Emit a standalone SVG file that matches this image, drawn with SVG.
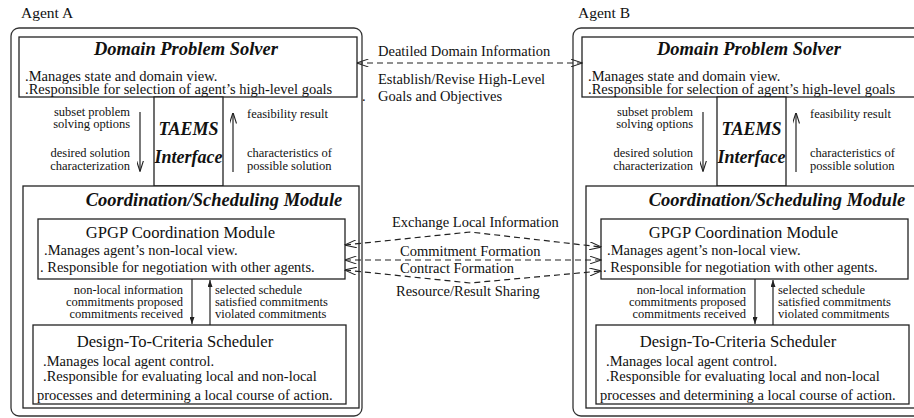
<svg xmlns="http://www.w3.org/2000/svg" width="914" height="418" viewBox="0 0 914 418">
<style>
  text { font-family: "Liberation Serif", "Times New Roman", serif; fill: #111; }
  .frame { fill: none; stroke: #333; stroke-width: 1.3; }
  .box { fill: #fff; stroke: #222; stroke-width: 1.3; }
  .ttl { font-weight: bold; font-style: italic; font-size: 18.5px; text-anchor: middle; }
  .ttl2 { font-weight: bold; font-style: italic; font-size: 18.5px; text-anchor: middle; }
  .tae { font-weight: bold; font-style: italic; font-size: 18px; text-anchor: middle; }
  .sub { font-size: 16.6px; text-anchor: middle; }
  .body { font-size: 14.5px; }
  .lab { font-size: 12.5px; }
  .lab13 { font-size: 12.5px; }
  .r { text-anchor: end; }
  .agent { font-size: 15.5px; }
  .conn { font-size: 14.5px; }
  .arr { fill: none; stroke: #222; stroke-width: 1.2; }
  .dash { fill: none; stroke: #222; stroke-width: 1.2; stroke-dasharray: 6 4; }
</style>
<defs>
  <marker id="vopen" viewBox="0 0 12 8" refX="11.5" refY="4" markerWidth="12" markerHeight="8" markerUnits="userSpaceOnUse" orient="auto-start-reverse">
    <path d="M0,0 L12,4 L0,8" fill="none" stroke="#222" stroke-width="1" stroke-dasharray="none"/>
  </marker>
  <marker id="vsmall" viewBox="0 0 11 7" refX="10.5" refY="3.5" markerWidth="11" markerHeight="7" markerUnits="userSpaceOnUse" orient="auto">
    <path d="M0,0 L11,3.5 L0,7" fill="none" stroke="#222" stroke-width="1.1"/>
  </marker>
  <marker id="tri" viewBox="0 0 7 5" refX="7" refY="2.5" markerWidth="7" markerHeight="5" markerUnits="userSpaceOnUse" orient="auto">
    <path d="M0,0 L7,2.5 L0,5 Z" fill="#222"/>
  </marker>
</defs>

<text class="agent" x="21" y="18">Agent A</text>
<text class="agent" x="578" y="18">Agent B</text>

<!-- Agent A -->
<g id="agentA">
  <rect class="frame" x="11" y="28" width="351" height="388" rx="8"/>
</g>
<g id="A-dps">
  <rect class="box" x="19" y="37" width="338" height="60"/>
  <text class="ttl" x="186" y="55">Domain Problem Solver</text>
  <text class="body" x="25" y="81">.Manages state and domain view.</text>
  <text class="body" x="25" y="94">.Responsible for selection of agent’s high-level goals</text>
</g>
<g id="A-taems">
  <rect class="box" x="154" y="97" width="69" height="89"/>
  <text class="tae" x="188.5" y="135">TAEMS</text>
  <text class="tae" x="188.5" y="163">Interface</text>
  <text class="lab r" x="130" y="116">subset problem</text>
  <text class="lab r" x="130" y="128">solving options</text>
  <text class="lab r" x="130" y="157">desired solution</text>
  <text class="lab r" x="130" y="170">characterization</text>
  <text class="lab" x="247" y="118">feasibility result</text>
  <text class="lab" x="247" y="157">characteristics of</text>
  <text class="lab" x="247" y="170">possible solution</text>
</g>
<g id="A-csm">
  <rect class="box" x="23" y="186" width="336" height="222"/>
  <text class="ttl2" x="214" y="206">Coordination/Scheduling Module</text>
</g>
<g id="A-gpgp">
  <rect class="box" x="38" y="219" width="307" height="60"/>
  <text class="sub" x="180.5" y="238">GPGP Coordination Module</text>
  <text class="body" x="44" y="255">.Manages agent’s non-local view.</text>
  <text class="body" x="40" y="272">. Responsible for negotiation with other agents.</text>
  <text class="lab13 r" x="183" y="294">non-local information</text>
  <text class="lab13 r" x="183" y="306">commitments proposed</text>
  <text class="lab13 r" x="183" y="318">commitments received</text>
  <text class="lab13" x="215" y="294">selected schedule</text>
  <text class="lab13" x="215" y="306">satisfied commitments</text>
  <text class="lab13" x="215" y="318">violated commitments</text>
</g>
<g id="A-dtc">
  <rect class="box" x="33" y="325" width="313" height="79"/>
  <text class="sub" x="175" y="347">Design-To-Criteria Scheduler</text>
  <text class="body" x="43" y="366">.Manages local agent control.</text>
  <text class="body" x="43" y="381">.Responsible for evaluating local and non-local</text>
  <text class="body" x="37" y="400">processes and determining a local course of action.</text>
</g>

<!-- Agent B -->
<g id="agentB" transform="translate(562,0)">
  <rect class="frame" x="11" y="28" width="351" height="388" rx="8"/>
</g>
<g id="B-dps" transform="translate(563,0)">
  <rect class="box" x="19" y="37" width="338" height="60"/>
  <text class="ttl" x="186" y="55">Domain Problem Solver</text>
  <text class="body" x="25" y="81">.Manages state and domain view.</text>
  <text class="body" x="25" y="94">.Responsible for selection of agent’s high-level goals</text>
</g>
<g id="B-taems" transform="translate(563,0)">
  <rect class="box" x="154" y="97" width="69" height="89"/>
  <text class="tae" x="188.5" y="135">TAEMS</text>
  <text class="tae" x="188.5" y="163">Interface</text>
  <text class="lab r" x="130" y="116">subset problem</text>
  <text class="lab r" x="130" y="128">solving options</text>
  <text class="lab r" x="130" y="157">desired solution</text>
  <text class="lab r" x="130" y="170">characterization</text>
  <text class="lab" x="247" y="118">feasibility result</text>
  <text class="lab" x="247" y="157">characteristics of</text>
  <text class="lab" x="247" y="170">possible solution</text>
</g>
<g id="B-csm" transform="translate(563,0)">
  <rect class="box" x="23" y="186" width="336" height="222"/>
  <text class="ttl2" x="214" y="206">Coordination/Scheduling Module</text>
</g>
<g id="B-gpgp" transform="translate(563,0)">
  <rect class="box" x="38" y="219" width="307" height="60"/>
  <text class="sub" x="180.5" y="238">GPGP Coordination Module</text>
  <text class="body" x="44" y="255">.Manages agent’s non-local view.</text>
  <text class="body" x="40" y="272">. Responsible for negotiation with other agents.</text>
  <text class="lab13 r" x="183" y="294">non-local information</text>
  <text class="lab13 r" x="183" y="306">commitments proposed</text>
  <text class="lab13 r" x="183" y="318">commitments received</text>
  <text class="lab13" x="215" y="294">selected schedule</text>
  <text class="lab13" x="215" y="306">satisfied commitments</text>
  <text class="lab13" x="215" y="318">violated commitments</text>
</g>
<g id="B-dtc" transform="translate(563,0)">
  <rect class="box" x="33" y="325" width="313" height="79"/>
  <text class="sub" x="175" y="347">Design-To-Criteria Scheduler</text>
  <text class="body" x="43" y="366">.Manages local agent control.</text>
  <text class="body" x="43" y="381">.Responsible for evaluating local and non-local</text>
  <text class="body" x="37" y="400">processes and determining a local course of action.</text>
</g>

<!-- Connectors -->
<g id="connectors">
  <line class="arr" x1="140" y1="112" x2="140" y2="171" marker-end="url(#vsmall)"/>
  <line class="arr" x1="233" y1="172" x2="233" y2="113" marker-end="url(#vsmall)"/>
  <line class="arr" x1="192" y1="279" x2="192" y2="324" marker-end="url(#tri)"/>
  <line class="arr" x1="210" y1="325" x2="210" y2="280" marker-end="url(#tri)"/>
  <line class="arr" x1="703" y1="112" x2="703" y2="171" marker-end="url(#vsmall)"/>
  <line class="arr" x1="796" y1="172" x2="796" y2="113" marker-end="url(#vsmall)"/>
  <line class="arr" x1="755" y1="279" x2="755" y2="324" marker-end="url(#tri)"/>
  <line class="arr" x1="773" y1="325" x2="773" y2="280" marker-end="url(#tri)"/>
  <path class="dash" d="M357,63 L582,63" marker-start="url(#vopen)" marker-end="url(#vopen)"/>
  <path class="dash" d="M345,245 L470,232 L601,247" marker-start="url(#vopen)" marker-end="url(#vopen)"/>
  <path class="dash" d="M345,260 L601,260" marker-start="url(#vopen)" marker-end="url(#vopen)"/>
  <path class="dash" d="M345,270 L470,283 L601,271" marker-start="url(#vopen)" marker-end="url(#vopen)"/>
  <text class="conn" x="378" y="56">Deatiled Domain Information</text>
  <text class="conn" x="378" y="84">Establish/Revise High-Level</text>
  <text class="conn" x="362" y="101">.</text>
  <text class="conn" x="378" y="101">Goals and Objectives</text>
  <text class="conn" x="392" y="227">Exchange Local Information</text>
  <text class="conn" x="400" y="256">Commitment Formation</text>
  <text class="conn" x="400" y="273">Contract Formation</text>
  <text class="conn" x="396" y="296">Resource/Result Sharing</text>
</g>
</svg>
